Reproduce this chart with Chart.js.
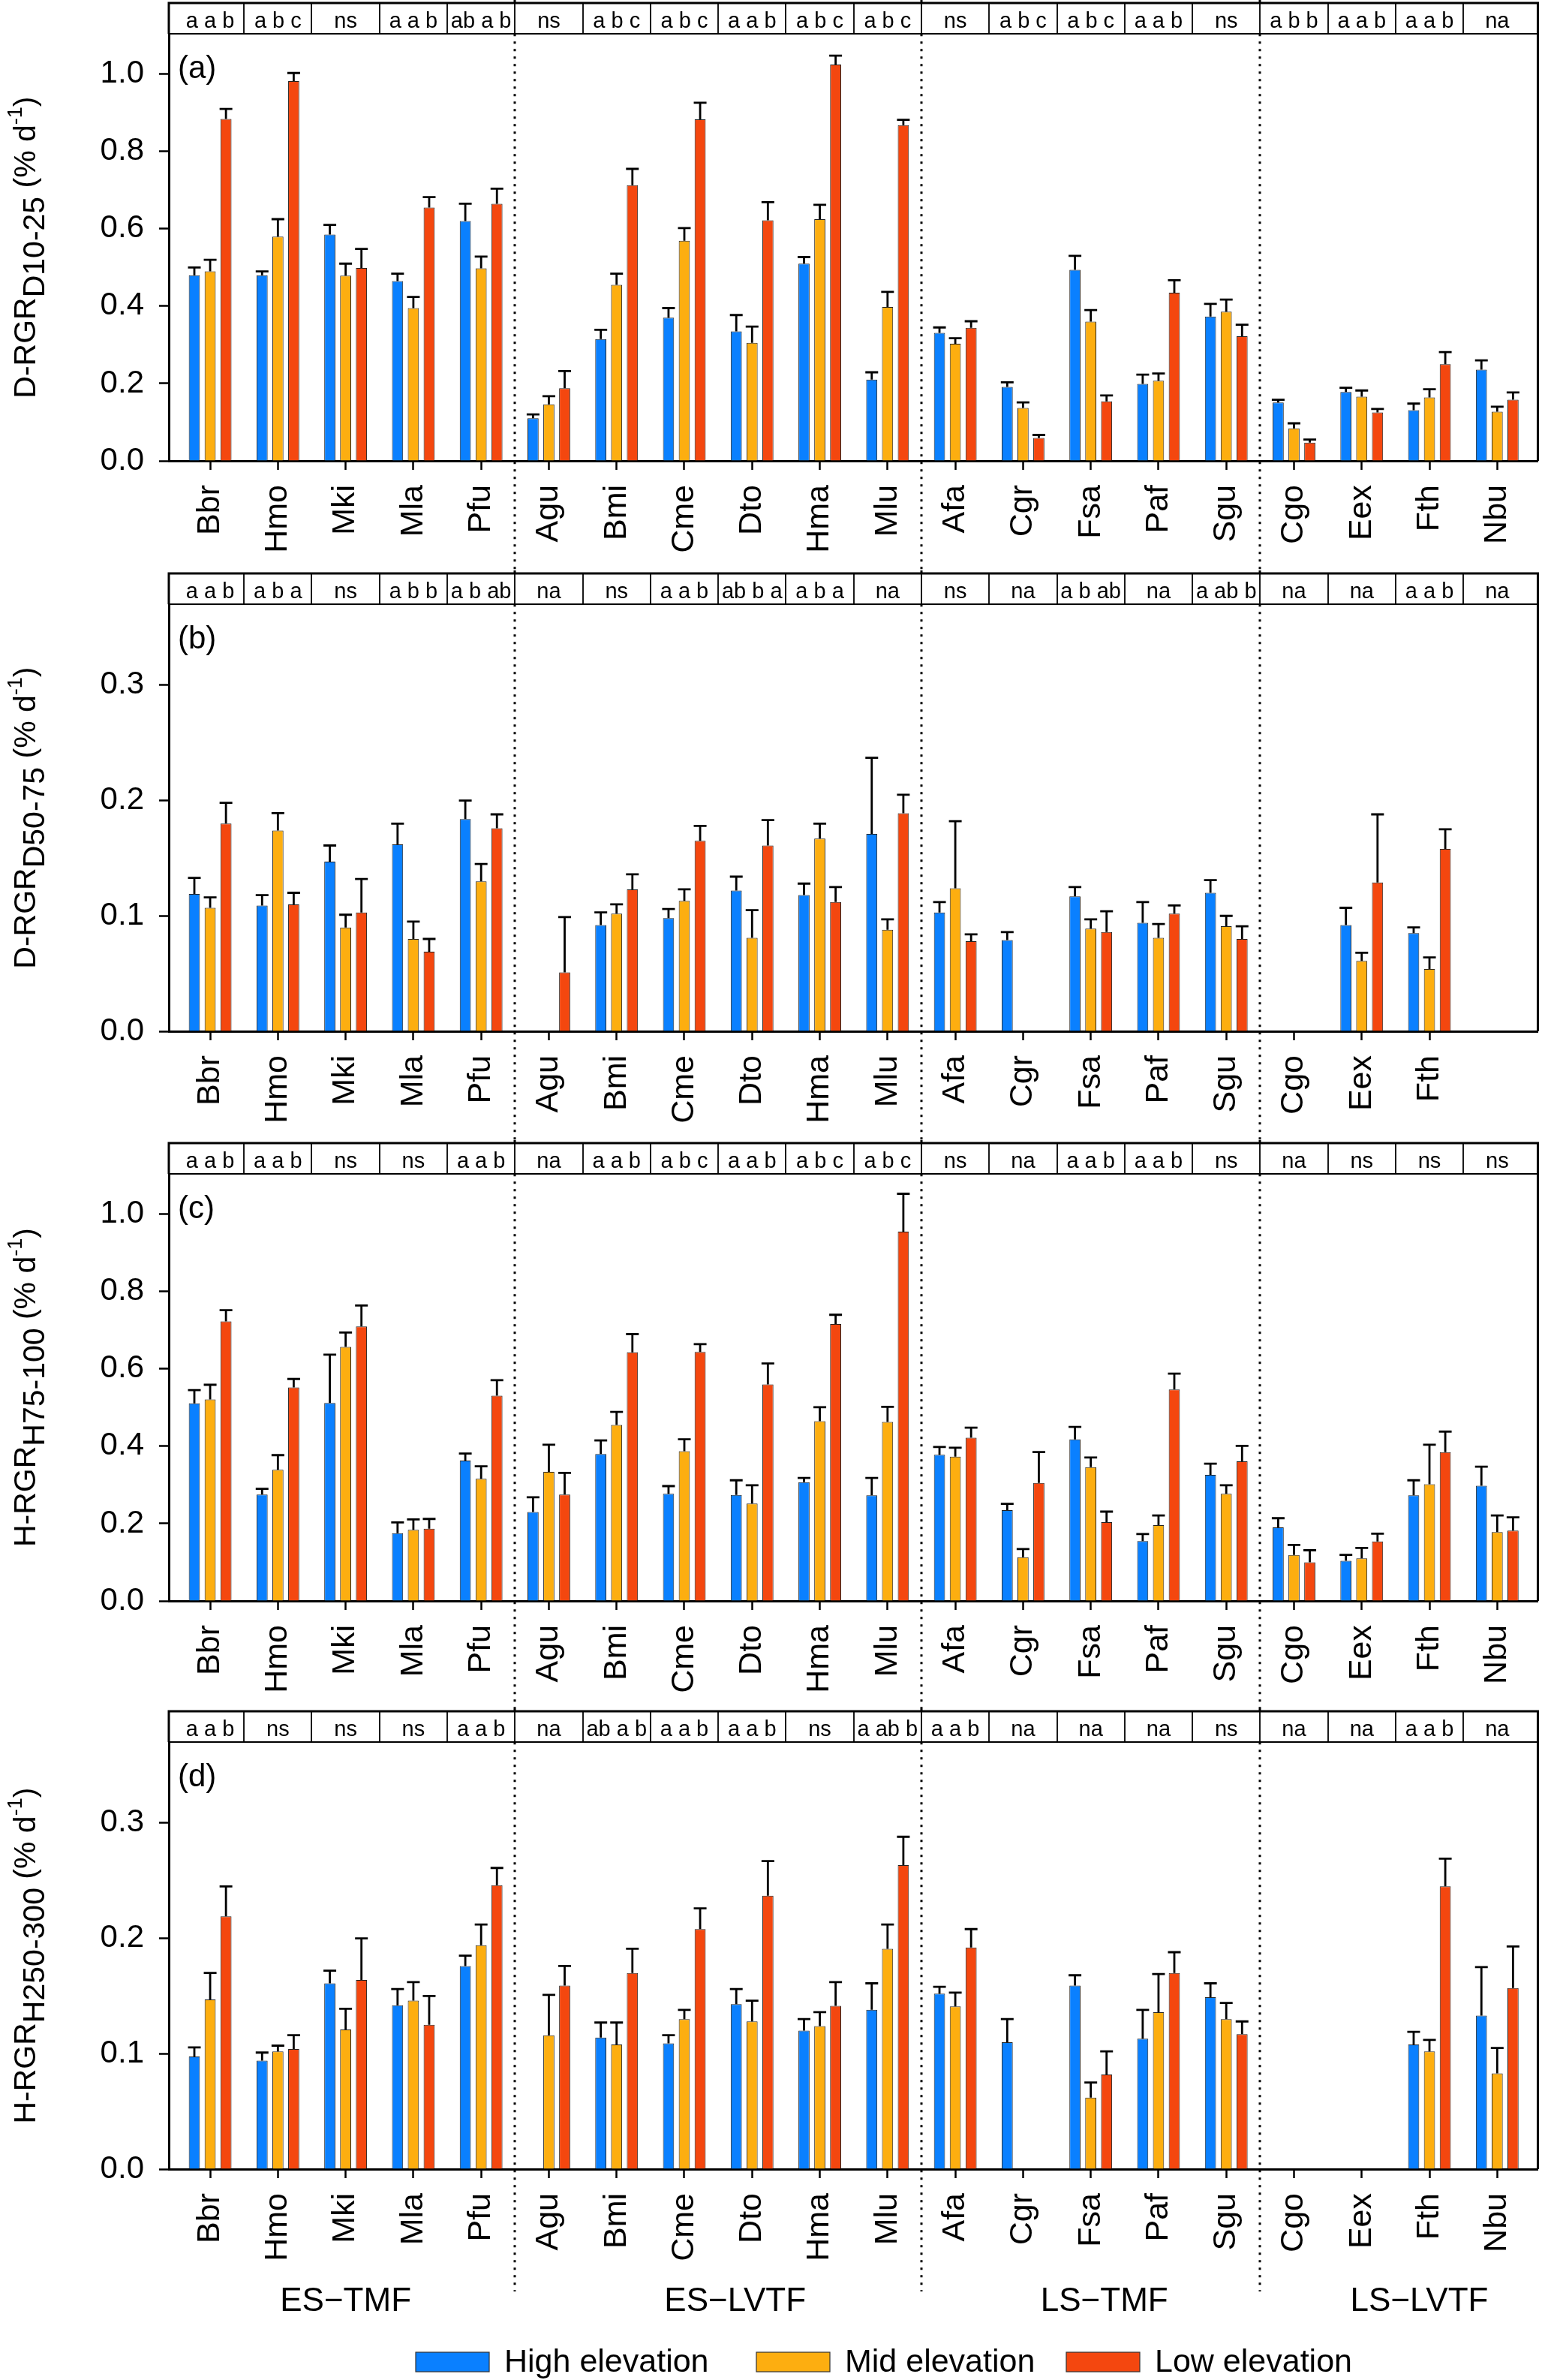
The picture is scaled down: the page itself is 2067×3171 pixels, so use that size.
<!DOCTYPE html>
<html>
<head>
<meta charset="utf-8">
<script src="https://cdn.jsdelivr.net/npm/chart.js@4.4.1/dist/chart.umd.min.js"></script>
<style>
    html, body { margin: 0; padding: 0; background: #fff; }
    #page { position: relative; width: 2067px; height: 3171px; }
    #page canvas { position: absolute; left: 0; }
</style>
</head>
<body>
<div id="page">
    <canvas id="chartA" width="2067" height="760" style="top:0px"></canvas>
    <canvas id="chartB" width="2067" height="759" style="top:760px"></canvas>
    <canvas id="chartC" width="2067" height="757" style="top:1519px"></canvas>
    <canvas id="chartD" width="2067" height="895" style="top:2276px"></canvas>
</div>
<script>
// Виды и группы
const species = ['Bbr', 'Hmo', 'Mki', 'Mla', 'Pfu', 'Agu', 'Bmi', 'Cme', 'Dto', 'Hma', 'Mlu',
                 'Afa', 'Cgr', 'Fsa', 'Paf', 'Sgu', 'Cgo', 'Eex', 'Fth', 'Nbu'];
const groupNames = ['ES\u2212TMF', 'ES\u2212LVTF', 'LS\u2212TMF', 'LS\u2212LVTF'];
const groupSizes = [5, 6, 5, 4];
const seriesNames = ['High elevation', 'Mid elevation', 'Low elevation'];

// (a) D-RGR D10-25
const aHigh    = [0.48, 0.48, 0.585, 0.465, 0.62, 0.11, 0.315, 0.37, 0.335, 0.51, 0.21, 0.331, 0.191, 0.494, 0.199, 0.373, 0.151, 0.178, 0.131, 0.236];
const aHighErr = [0.50, 0.49, 0.61, 0.484, 0.665, 0.12, 0.339, 0.395, 0.377, 0.527, 0.229, 0.345, 0.203, 0.53, 0.223, 0.406, 0.158, 0.189, 0.148, 0.26];
const aMid     = [0.49, 0.58, 0.479, 0.395, 0.498, 0.146, 0.455, 0.569, 0.305, 0.625, 0.398, 0.303, 0.137, 0.36, 0.207, 0.386, 0.084, 0.166, 0.164, 0.127];
const aMidErr  = [0.52, 0.625, 0.51, 0.424, 0.528, 0.167, 0.484, 0.602, 0.347, 0.662, 0.437, 0.317, 0.151, 0.39, 0.226, 0.417, 0.097, 0.182, 0.185, 0.14];
const aLow     = [0.884, 0.982, 0.499, 0.655, 0.665, 0.188, 0.713, 0.883, 0.622, 1.025, 0.868, 0.344, 0.059, 0.154, 0.435, 0.322, 0.047, 0.125, 0.25, 0.158];
const aLowErr  = [0.91, 1.003, 0.548, 0.682, 0.704, 0.232, 0.755, 0.926, 0.669, 1.048, 0.882, 0.361, 0.067, 0.169, 0.467, 0.352, 0.055, 0.134, 0.281, 0.177];
const aLetters = ['a a b', 'a b c', 'ns', 'a a b', 'ab a b', 'ns', 'a b c', 'a b c', 'a a b', 'a b c', 'a b c',
                  'ns', 'a b c', 'a b c', 'a a b', 'ns', 'a b b', 'a a b', 'a a b', 'na'];

// (b) D-RGR D50-75
const bHigh    = [0.119, 0.109, 0.147, 0.162, 0.184, null, 0.092, 0.098, 0.122, 0.118, 0.171, 0.103, 0.079, 0.117, 0.094, 0.120, null, 0.092, 0.085, null];
const bHighErr = [0.133, 0.118, 0.161, 0.180, 0.200, null, 0.103, 0.106, 0.134, 0.128, 0.237, 0.112, 0.086, 0.125, 0.112, 0.131, null, 0.107, 0.090, null];
const bMid     = [0.107, 0.174, 0.090, 0.080, 0.130, null, 0.102, 0.113, 0.081, 0.167, 0.088, 0.124, null, 0.089, 0.081, 0.091, null, 0.061, 0.054, null];
const bMidErr  = [0.116, 0.189, 0.101, 0.095, 0.145, null, 0.110, 0.123, 0.105, 0.180, 0.097, 0.182, null, 0.097, 0.093, 0.100, null, 0.068, 0.064, null];
const bLow     = [0.180, 0.110, 0.103, 0.069, 0.176, 0.051, 0.123, 0.165, 0.161, 0.112, 0.189, 0.078, null, 0.086, 0.102, 0.080, null, 0.129, 0.158, null];
const bLowErr  = [0.198, 0.120, 0.132, 0.080, 0.188, 0.099, 0.136, 0.178, 0.183, 0.125, 0.205, 0.084, null, 0.104, 0.109, 0.091, null, 0.188, 0.175, null];
const bLetters = ['a a b', 'a b a', 'ns', 'a b b', 'a b ab', 'na', 'ns', 'a a b', 'ab b a', 'a b a', 'na',
                  'ns', 'na', 'a b ab', 'na', 'a ab b', 'na', 'na', 'a a b', 'na'];

// (c) H-RGR H75-100
const cHigh    = [0.511, 0.275, 0.512, 0.175, 0.363, 0.230, 0.380, 0.277, 0.274, 0.307, 0.273, 0.378, 0.235, 0.418, 0.155, 0.326, 0.190, 0.104, 0.273, 0.298];
const cHighErr = [0.545, 0.290, 0.637, 0.203, 0.381, 0.268, 0.415, 0.297, 0.312, 0.318, 0.318, 0.398, 0.251, 0.450, 0.173, 0.355, 0.214, 0.119, 0.312, 0.347];
const cMid     = [0.521, 0.339, 0.657, 0.184, 0.316, 0.334, 0.455, 0.387, 0.252, 0.465, 0.463, 0.373, 0.113, 0.346, 0.196, 0.277, 0.119, 0.110, 0.302, 0.178];
const cMidErr  = [0.559, 0.377, 0.694, 0.211, 0.348, 0.404, 0.489, 0.418, 0.299, 0.501, 0.502, 0.396, 0.134, 0.371, 0.221, 0.299, 0.145, 0.137, 0.404, 0.221];
const cLow     = [0.723, 0.552, 0.710, 0.187, 0.531, 0.275, 0.643, 0.644, 0.560, 0.716, 0.955, 0.422, 0.305, 0.204, 0.547, 0.361, 0.100, 0.154, 0.385, 0.182];
const cLowErr  = [0.752, 0.574, 0.764, 0.212, 0.571, 0.331, 0.690, 0.664, 0.614, 0.740, 1.053, 0.448, 0.385, 0.231, 0.588, 0.401, 0.131, 0.174, 0.438, 0.216];
const cLetters = ['a a b', 'a a b', 'ns', 'ns', 'a a b', 'na', 'a a b', 'a b c', 'a a b', 'a b c', 'a b c',
                  'ns', 'na', 'a a b', 'a a b', 'ns', 'na', 'ns', 'ns', 'ns'];

// (d) H-RGR H250-300
const dHigh    = [0.0975, 0.094, 0.161, 0.142, 0.176, null, 0.114, 0.109, 0.143, 0.120, 0.138, 0.152, 0.110, 0.159, 0.113, 0.149, null, null, 0.108, 0.133];
const dHighErr = [0.1055, 0.101, 0.172, 0.156, 0.185, null, 0.127, 0.116, 0.156, 0.130, 0.161, 0.158, 0.130, 0.168, 0.138, 0.161, null, null, 0.119, 0.175];
const dMid     = [0.147, 0.102, 0.121, 0.146, 0.194, 0.116, 0.108, 0.130, 0.128, 0.124, 0.191, 0.141, null, 0.062, 0.136, 0.130, null, null, 0.102, 0.083];
const dMidErr  = [0.170, 0.107, 0.139, 0.162, 0.212, 0.151, 0.127, 0.138, 0.146, 0.136, 0.212, 0.153, null, 0.075, 0.169, 0.144, null, null, 0.112, 0.105];
const dLow     = [0.219, 0.104, 0.164, 0.125, 0.246, 0.159, 0.170, 0.208, 0.237, 0.1415, 0.2635, 0.192, null, 0.082, 0.170, 0.117, null, null, 0.245, 0.157];
const dLowErr  = [0.245, 0.116, 0.200, 0.150, 0.261, 0.176, 0.191, 0.226, 0.267, 0.162, 0.288, 0.208, null, 0.102, 0.188, 0.128, null, null, 0.269, 0.193];
const dLetters = ['a a b', 'ns', 'ns', 'ns', 'a a b', 'na', 'ab a b', 'a a b', 'a a b', 'ns', 'a ab b',
                  'a a b', 'na', 'na', 'na', 'ns', 'na', 'na', 'a a b', 'na'];

// Оформление
const FONT = '"Liberation Sans", Arial, Helvetica, sans-serif';
const barColors = ['#0a80ff', '#fdae10', '#f4470f'];
const X_MIN = -0.61, X_MAX = 19.6;
const FRAME_TOP = 4, ROW_BOTTOM = 45, AXIS_Y = 614, PLOT_LEFT = 225;
const DOT_END = 777;
const groupLabelPos = [2, 7.75, 13.2, 17.85];
const legendX = [554, 1008, 1421];

function toPoints(vals) {
    return vals.map(function(v, i) { return { x: i, y: v }; });
}

// Планки погрешностей (только верхние)
const errorBars = {
    id: 'errorBars',
    afterDatasetsDraw(chart) {
        const ctx = chart.ctx;
        const yScale = chart.scales.y;
        ctx.save();
        ctx.strokeStyle = '#000';
        ctx.lineWidth = 2.8;
        chart.data.datasets.forEach(function(ds, di) {
            const meta = chart.getDatasetMeta(di);
            meta.data.forEach(function(bar, i) {
                const top = ds.errTop[i];
                if (top == null || ds.data[i].y == null) return;
                const yp = yScale.getPixelForValue(top);
                ctx.beginPath();
                ctx.moveTo(bar.x, bar.y);
                ctx.lineTo(bar.x, yp);
                ctx.moveTo(bar.x - 8.5, yp);
                ctx.lineTo(bar.x + 8.5, yp);
                ctx.stroke();
            });
        });
        ctx.restore();
    }
};

// Подпись оси Y с индексами
function drawYTitle(ctx, parts, cx, cy) {
    ctx.save();
    ctx.translate(cx, cy);
    ctx.rotate(-Math.PI / 2);
    let total = 0;
    parts.forEach(function(p) {
        ctx.font = p.size + 'px ' + FONT;
        p.w = ctx.measureText(p.text).width;
        total += p.w;
    });
    let x = -total / 2;
    ctx.fillStyle = '#000';
    ctx.textAlign = 'left';
    ctx.textBaseline = 'alphabetic';
    parts.forEach(function(p) {
        ctx.font = p.size + 'px ' + FONT;
        ctx.fillText(p.text, x, p.dy);
        x += p.w;
    });
    ctx.restore();
}

function decorPlugin(panel) {
    return {
        id: 'decor',
        afterDraw(chart) {
            const ctx = chart.ctx;
            const xs = chart.scales.x;
            const area = chart.chartArea;
            ctx.save();
            ctx.strokeStyle = '#000';

            // пунктирные разделители групп
            ctx.setLineDash([3, 7]);
            ctx.lineWidth = 3;
            let acc = 0;
            groupSizes.slice(0, -1).forEach(function(n) {
                acc += n;
                const x = Math.round(xs.getPixelForValue(acc - 0.5));
                ctx.beginPath();
                ctx.moveTo(x, area.top);
                ctx.lineTo(x, panel.last ? DOT_END : chart.height);
                ctx.stroke();
                ctx.beginPath();
                ctx.moveTo(x, 0);
                ctx.lineTo(x, FRAME_TOP);
                ctx.stroke();
            });
            ctx.setLineDash([]);

            // рамка
            ctx.lineWidth = 3;
            ctx.beginPath();
            ctx.moveTo(area.left - 1.5, FRAME_TOP);
            ctx.lineTo(area.right, FRAME_TOP);
            ctx.lineTo(area.right, area.bottom);
            ctx.moveTo(area.left, FRAME_TOP);
            ctx.lineTo(area.left, area.top);
            ctx.stroke();

            // строка с буквами значимости
            ctx.lineWidth = 2;
            ctx.beginPath();
            ctx.moveTo(area.left, ROW_BOTTOM);
            ctx.lineTo(area.right, ROW_BOTTOM);
            ctx.stroke();
            ctx.lineWidth = 1.8;
            for (let i = 0; i < species.length - 1; i++) {
                const x = Math.round(xs.getPixelForValue(i + 0.5));
                ctx.beginPath();
                ctx.moveTo(x, FRAME_TOP);
                ctx.lineTo(x, ROW_BOTTOM);
                ctx.stroke();
            }
            ctx.fillStyle = '#000';
            ctx.font = '29px ' + FONT;
            ctx.textAlign = 'center';
            ctx.textBaseline = 'middle';
            panel.letters.forEach(function(t, i) {
                ctx.fillText(t, xs.getPixelForValue(i), (FRAME_TOP + ROW_BOTTOM) / 2 + 4);
            });

            // метка панели
            ctx.font = '42px ' + FONT;
            ctx.textAlign = 'left';
            ctx.textBaseline = 'alphabetic';
            ctx.fillText(panel.tag, 237, 104);

            drawYTitle(ctx, [
                { text: panel.titleMain, size: 41, dy: 0 },
                { text: panel.titleSub, size: 41, dy: 12 },
                { text: ' (% d', size: 41, dy: 0 },
                { text: '-1', size: 27, dy: -18 },
                { text: ')', size: 41, dy: 0 }
            ], 47, (area.top + area.bottom) / 2);

            if (panel.last) {
                // названия групп
                ctx.font = '44px ' + FONT;
                ctx.textAlign = 'center';
                ctx.textBaseline = 'middle';
                groupNames.forEach(function(g, k) {
                    ctx.fillText(g, xs.getPixelForValue(groupLabelPos[k]), 791);
                });
                // легенда
                ctx.font = '43px ' + FONT;
                ctx.textAlign = 'left';
                ctx.lineWidth = 1.2;
                ctx.strokeStyle = '#333';
                chart.data.datasets.forEach(function(ds, k) {
                    ctx.fillStyle = ds.backgroundColor;
                    ctx.fillRect(legendX[k], 858, 98, 26);
                    ctx.strokeRect(legendX[k], 858, 98, 26);
                    ctx.fillStyle = '#000';
                    ctx.fillText(ds.label, legendX[k] + 118, 872);
                });
            }
            ctx.restore();
        }
    };
}

function makePanel(canvasId, panel) {
    const ctx = document.getElementById(canvasId);
    if (!ctx) return;

    const hidden = panel.hiddenTicks || [];

    new Chart(ctx, {
        type: 'bar',
        data: {
            datasets: seriesNames.map(function(name, k) {
                return {
                    label: name,
                    data: toPoints(panel.values[k]),
                    errTop: panel.errors[k],
                    backgroundColor: barColors[k],
                    borderColor: '#222',
                    borderWidth: 1,
                    categoryPercentage: 0.7,
                    barPercentage: 0.7
                };
            })
        },
        options: {
            responsive: false,
            animation: false,
            layout: {
                padding: { top: ROW_BOTTOM, right: 3, left: 0, bottom: 0 }
            },
            plugins: {
                legend: { display: false },
                tooltip: { enabled: false }
            },
            scales: {
                x: {
                    type: 'linear',
                    offset: false,
                    min: X_MIN,
                    max: X_MAX,
                    afterBuildTicks: function(scale) {
                        scale.ticks = species.map(function(s, i) { return { value: i }; });
                    },
                    afterFit: function(scale) {
                        scale.height = scale.chart.height - AXIS_Y;
                    },
                    ticks: {
                        autoSkip: false,
                        minRotation: 90,
                        maxRotation: 90,
                        padding: 20,
                        color: '#000',
                        font: { family: FONT, size: 43 },
                        callback: function(value) {
                            const name = species[value];
                            return hidden.includes(name) ? '' : name;
                        }
                    },
                    grid: {
                        offset: false,
                        drawOnChartArea: false,
                        drawTicks: true,
                        tickLength: 12,
                        tickWidth: 2.5,
                        tickColor: function(c) {
                            if (c.tick && hidden.includes(species[c.tick.value])) return 'rgba(0,0,0,0)';
                            return '#000';
                        }
                    },
                    border: { display: true, color: '#000', width: 3 }
                },
                y: {
                    min: 0,
                    max: panel.yMax,
                    afterFit: function(scale) {
                        scale.width = PLOT_LEFT;
                    },
                    ticks: {
                        stepSize: panel.step,
                        includeBounds: false,
                        padding: 20,
                        color: '#000',
                        font: { family: FONT, size: 42 },
                        callback: function(value) {
                            return value.toFixed(1);
                        }
                    },
                    grid: {
                        drawOnChartArea: false,
                        tickLength: 13,
                        tickWidth: 2.5,
                        tickColor: '#000'
                    },
                    border: { display: true, color: '#000', width: 3 }
                }
            }
        },
        plugins: [errorBars, decorPlugin(panel)]
    });
}

makePanel('chartA', {
    tag: '(a)', titleMain: 'D-RGR', titleSub: 'D10-25', yMax: 1.104, step: 0.2,
    values: [aHigh, aMid, aLow], errors: [aHighErr, aMidErr, aLowErr], letters: aLetters
});
makePanel('chartB', {
    tag: '(b)', titleMain: 'D-RGR', titleSub: 'D50-75', yMax: 0.370, step: 0.1,
    values: [bHigh, bMid, bLow], errors: [bHighErr, bMidErr, bLowErr], letters: bLetters,
    hiddenTicks: ['Nbu']
});
makePanel('chartC', {
    tag: '(c)', titleMain: 'H-RGR', titleSub: 'H75-100', yMax: 1.104, step: 0.2,
    values: [cHigh, cMid, cLow], errors: [cHighErr, cMidErr, cLowErr], letters: cLetters
});
makePanel('chartD', {
    tag: '(d)', titleMain: 'H-RGR', titleSub: 'H250-300', yMax: 0.370, step: 0.1,
    values: [dHigh, dMid, dLow], errors: [dHighErr, dMidErr, dLowErr], letters: dLetters,
    last: true
});
</script>
</body>
</html>
